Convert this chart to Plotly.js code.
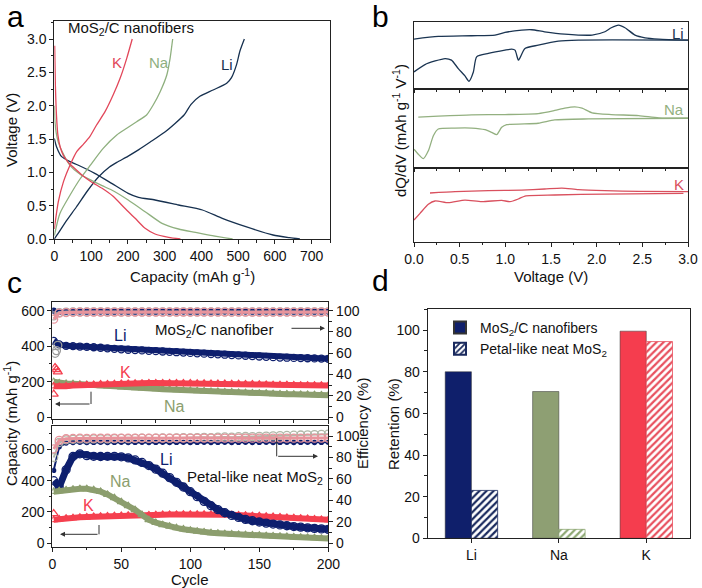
<!DOCTYPE html>
<html><head><meta charset="utf-8">
<script src="https://cdn.plot.ly/plotly-3.0.1.min.js"></script>
<style>html,body{margin:0;padding:0;background:#fff}#chart{width:702px;height:588px}</style>
</head><body><div id="chart"></div>
<script>
// ---------- Panel a: galvanostatic profiles ----------
const aLiDisCap = [0, 6, 20, 43, 64, 110, 156, 201, 229, 274, 338, 403, 457, 521, 595, 640, 668];
const aLiDisV   = [1.51, 1.385, 1.235, 1.16, 1.11, 0.985, 0.835, 0.685, 0.625, 0.585, 0.51, 0.435, 0.31, 0.185, 0.06, 0.02, 0];
const aLiChgCap = [0, 10, 30, 60, 90, 120, 150, 170, 200, 230, 260, 300, 330, 353, 372, 396, 432, 469, 482, 496, 505, 517];
const aLiChgV   = [0, 0.08, 0.25, 0.48, 0.72, 0.93, 1.08, 1.15, 1.24, 1.34, 1.45, 1.6, 1.74, 1.86, 2.02, 2.14, 2.235, 2.335, 2.42, 2.62, 2.82, 3.0];
const aNaDisCap = [0, 2, 5, 11, 25, 43, 70, 97, 130, 156, 201, 247, 293, 338, 384, 430, 485];
const aNaDisV   = [2.0, 1.75, 1.6, 1.45, 1.27, 1.1, 0.97, 0.89, 0.8, 0.735, 0.585, 0.41, 0.235, 0.15, 0.1, 0.05, 0];
const aNaChgCap = [0, 15, 43, 70, 97, 133, 170, 197, 224, 251, 269, 288, 306, 315, 322];
const aNaChgV   = [0.05, 0.38, 0.66, 0.9, 1.1, 1.36, 1.56, 1.66, 1.76, 1.86, 2.01, 2.21, 2.46, 2.71, 3.0];
const aKDisCap  = [1, 3, 6, 10, 16, 25, 38, 55, 75, 100, 130, 160, 192, 220, 247, 274, 311, 343];
const aKDisV    = [2.9, 2.3, 1.85, 1.55, 1.38, 1.25, 1.15, 1.06, 0.96, 0.86, 0.76, 0.64, 0.46, 0.31, 0.16, 0.075, 0.025, 0];
const aKChgCap  = [0, 11, 25, 43, 61, 79, 97, 115, 138, 160, 179, 197, 212];
const aKChgV    = [0.15, 0.56, 0.86, 1.11, 1.31, 1.42, 1.54, 1.71, 1.91, 2.16, 2.41, 2.71, 3.0];

// ---------- Panel b: dQ/dV curves (arbitrary units 0-100) ----------
const bLiUpV  = [0, 0.266, 0.631, 0.887, 0.996, 1.18, 1.29, 1.43, 1.65, 1.95, 2.09, 2.16, 2.24, 2.31, 2.42, 2.53, 2.68, 3.0];
const bLiUpY  = [74.3, 78.2, 79.2, 80.2, 84.2, 87.6, 88.1, 85.1, 81.7, 80.2, 85.1, 91.1, 95, 91.1, 80.2, 76.2, 74.3, 72.8];
const bLiLoV  = [0, 0.12, 0.34, 0.41, 0.485, 0.558, 0.602, 0.65, 0.686, 0.814, 0.996, 1.07, 1.106, 1.142, 1.16, 1.215, 1.36, 1.58, 1.8, 3.0];
const bLiLoY  = [25.7, 36.6, 45.5, 43.1, 30.7, 19.8, 11.9, 25.7, 48, 53, 57.9, 59.4, 57.9, 43.1, 46.5, 60.4, 65.3, 71.3, 72.8, 72.8];
const bNaUpV  = [0.047, 0.266, 0.631, 0.996, 1.36, 1.54, 1.65, 1.76, 1.84, 1.95, 2.16, 2.46, 2.68, 3.0];
const bNaUpY  = [64.4, 65.7, 67.4, 67.8, 69.1, 73, 76, 77.7, 76, 70, 67.8, 66.5, 63.5, 63.1];
const bNaLoV  = [0, 0.047, 0.102, 0.157, 0.212, 0.266, 0.449, 0.631, 0.777, 0.85, 0.905, 0.96, 1.015, 1.36, 1.54, 1.91, 3.0];
const bNaLoY  = [23.6, 17.2, 11.6, 21.5, 40.8, 49.4, 50.6, 50.6, 48.5, 45.1, 42.1, 51.5, 54.9, 56.7, 60.9, 62.2, 63.1];
const bKUpV   = [0.175, 0.449, 0.814, 1.18, 1.43, 1.62, 1.8, 2.09, 2.46, 3.0];
const bKUpY   = [65.8, 67.6, 68.9, 69.8, 71.2, 72.5, 70.3, 68.9, 68, 67.6];
const bKLoV   = [0, 0.066, 0.157, 0.23, 0.376, 0.558, 0.741, 0.96, 1.05, 1.142, 1.215, 1.54, 2.09, 2.95];
const bKLoY   = [29.3, 38.3, 50.5, 55, 52.7, 56.3, 54.1, 55.9, 54.1, 57.7, 61.7, 63.1, 64.4, 65.3];

// ---------- Panel c: cycling ----------
const cyc = [1,5,10,15,20,25,30,35,40,45,50,55,60,65,70,75,80,85,90,95,100,105,110,115,120,125,130,135,140,145,150,155,160,165,170,175,180,185,190,195,200];
const topLi = [430,410,402,400,398,396,394,391,388,385,382,380,378,376,374,372,370,368,366,364,362,360,358,356,354,352,350,348,346,344,342,340,338,336,335,334,333,332,331,330,329];
const topK  = [175,172,175,178,180,182,184,186,187,188,189,190,191,191,192,192,192,192,192,192,192,191,191,190,190,189,188,188,187,186,185,184,183,182,182,181,180,180,179,179,178];
const topNa = [200,192,190,188,185,182,180,177,175,172,170,168,166,164,162,160,158,156,154,152,150,148,147,145,144,142,141,139,138,136,135,134,132,131,130,129,128,127,126,125,124];
const topKEarlyCyc = [1, 2, 3, 4];
const topKEarly    = [130, 280, 268, 255];
const topLiEarlyCyc = [2, 3, 4];
const topLiEarly    = [360, 375, 405];
const effTopLi = [100,98.8,99,99,99.1,99,99,99.1,99,99,99.1,99,99,99.1,99,99,99.1,99,99,99.1,99,99,99.1,99,99,99.1,99,99,99.1,99,99,99.1,99,99,99.1,99,99,99.1,99,99,99.1];
const effTopNa = [95,98.2,98.6,98.7,98.8,98.7,98.8,98.8,98.7,98.8,98.8,98.7,98.8,98.8,98.7,98.8,98.8,98.7,98.8,98.8,98.7,98.8,98.8,98.7,98.8,98.8,98.7,98.8,98.8,98.7,98.8,98.8,98.7,98.8,98.8,98.7,98.8,98.8,98.7,98.8,98.8];
const effTopK  = [92,97.6,98.2,98.4,98.5,98.5,98.6,98.6,98.5,98.6,98.6,98.5,98.6,98.6,98.5,98.6,98.6,98.5,98.6,98.6,98.5,98.6,98.6,98.5,98.6,98.6,98.5,98.6,98.6,98.5,98.6,98.6,98.5,98.6,98.6,98.5,98.6,98.6,98.5,98.6,98.6];

const botLi = [400,360,470,555,572,560,556,555,556,556,553,546,533,517,497,474,448,420,390,360,330,298,268,240,215,195,178,165,153,144,136,129,123,117,112,107,103,99,95,92,89];
const botNa = [330,335,340,345,348,348,342,330,312,290,265,240,214,182,150,132,118,108,98,90,82,76,71,67,64,61,58,56,54,52,50,48,46,44,42,40,38,36,34,32,30];
const botK  = [150,155,160,163,166,168,170,172,174,176,177,178,179,180,181,182,183,184,184,185,185,185,185,184,184,183,182,180,178,176,175,172,170,168,165,163,160,158,155,152,150];
const botKEarlyCyc = [1];
const botKEarly    = [190];
const effBotLi = [68,90,93.5,94,94.2,94,94.1,94.2,94,94.1,94.2,94,94.1,94.2,94,94.1,94.2,94,94.1,94.2,94,94.1,94.2,94,94.1,94.2,94,94.1,94.2,94,94.1,94.2,94,94.1,94.2,94,94.1,94.2,94,94.1,94.2];
const effBotNa = [80,94,96.5,97,97.3,97.2,97.4,97.5,97.4,97.6,97.8,97.6,97.8,98,97.8,98,98.2,98,98.3,98.5,98.3,98.6,98.8,98.6,99,99.2,99,99.4,99.6,99.5,99.8,100,100.2,100.4,100.6,100.8,101,101.2,101.4,101.6,101.8];
const effBotK  = [88,96,97.5,97.8,98,97.9,98,98.1,98,98.1,98.1,98,98.1,98.1,98,98.1,98.1,98,98.1,98.1,98,98.1,98.1,98,98.1,98.1,98,98.1,98.1,98,98.1,98.1,98,98.1,98.1,98,98.1,98.1,98,98.1,98.1];

// ---------- Panel d: retention ----------
const dCats = ['Li', 'Na', 'K'];
const dFiber = [80, 70.5, 99.5];
const dPetal = [23, 4.3, 94.5];
const dSeries = ['MoS<sub>2</sub>/C nanofibers', 'Petal-like neat MoS<sub>2</sub>'];

// ---------- styles ----------
const FONT = 'Liberation Sans, Arial, Helvetica, sans-serif';
const cLiA = '#16304f', cNaA = '#8fb07f', cKA = '#e2475a';
const cLiC = '#0e1f6e', cNaC = '#8c9e6e', cKC = '#f5404f';
const W = 702, H = 588;
const X = px => px / W;
const Y = py => 1 - py / H;

const traces = [];
function line(x, y, color, xa, ya) {
  traces.push({x, y, type:'scatter', mode:'lines', xaxis:xa, yaxis:ya, showlegend:false,
    line:{color, width:1.3, shape:'spline', smoothing:0.6}, hoverinfo:'skip'});
}
// panel a
line(aLiDisCap, aLiDisV, cLiA, 'x', 'y');
line(aLiChgCap, aLiChgV, cLiA, 'x', 'y');
line(aNaDisCap, aNaDisV, cNaA, 'x', 'y');
line(aNaChgCap, aNaChgV, cNaA, 'x', 'y');
line(aKDisCap, aKDisV, cKA, 'x', 'y');
line(aKChgCap, aKChgV, cKA, 'x', 'y');
// panel b
line(bLiUpV, bLiUpY, '#1b3552', 'x2', 'y2');
line(bLiLoV, bLiLoY, '#1b3552', 'x2', 'y2');
line(bNaUpV, bNaUpY, '#93b080', 'x3', 'y3');
line(bNaLoV, bNaLoY, '#93b080', 'x3', 'y3');
line(bKUpV, bKUpY, '#d9505e', 'x4', 'y4');
line(bKLoV, bKLoY, '#d9505e', 'x4', 'y4');

function band(x, y, color, sym, xa, ya, lw, ms) {
  traces.push({x, y, type:'scatter', mode:'lines+markers', xaxis:xa, yaxis:ya, showlegend:false,
    line:{color, width:lw}, marker:{symbol:sym, size:ms, color, line:{color, width:1.3}}, hoverinfo:'skip'});
}
function pts(x, y, color, sym, xa, ya, ms) {
  traces.push({x, y, type:'scatter', mode:'markers', xaxis:xa, yaxis:ya, showlegend:false,
    marker:{symbol:sym, size:ms, color, line:{color, width:1.3}}, hoverinfo:'skip'});
}
// panel c top
band(cyc, topNa, cNaC, 'triangle-up-open', 'x5', 'y5', 6, 7);
band(cyc, topK, cKC, 'triangle-up-open', 'x5', 'y5', 6, 7);
band(cyc, topLi, cLiC, 'circle-open', 'x5', 'y5', 6, 7);
pts(topKEarlyCyc, topKEarly, cKC, 'triangle-up-open', 'x5', 'y5', 8);
pts(topLiEarlyCyc, topLiEarly, '#9a9a9a', 'circle-open', 'x5', 'y5', 8);
band(cyc, effTopLi, cLiC, 'circle', 'x5', 'y6', 2, 5);
band(cyc, effTopNa, '#a6a6a6', 'circle-open', 'x5', 'y6', 3, 8);
band(cyc, effTopK, '#e8949c', 'circle-open', 'x5', 'y6', 3, 8);
// panel c bottom
band(cyc, botK, cKC, 'triangle-up-open', 'x7', 'y7', 6, 7);
band(cyc, botLi, cLiC, 'circle-open', 'x7', 'y7', 7, 8);
band(cyc, botNa, cNaC, 'triangle-up-open', 'x7', 'y7', 6, 7);
pts(botKEarlyCyc, botKEarly, cKC, 'triangle-up-open', 'x7', 'y7', 8);
band(cyc, effBotLi, cLiC, 'circle', 'x7', 'y8', 2, 4);
band(cyc, effBotNa, '#b0b8a8', 'circle-open', 'x7', 'y8', 2, 8);
band(cyc, effBotK, '#e8949c', 'circle-open', 'x7', 'y8', 3, 8);

// panel d
const solidCols = ['#0f1f6b', '#8e9f73', '#f53d4e'];
const hatchCols = ['#1a2a5e', '#8ea874', '#e8505e'];
traces.push({type:'bar', x:dCats, y:dFiber, name:dSeries[0], xaxis:'x9', yaxis:'y9',
  marker:{color:solidCols, line:{color:'#333', width:0.5}}, hoverinfo:'skip'});
traces.push({type:'bar', x:dCats, y:dPetal, name:dSeries[1], xaxis:'x9', yaxis:'y9',
  marker:{color:'#ffffff', line:{color:hatchCols, width:0.8},
    pattern:{shape:'/', fgcolor:hatchCols, bgcolor:'#ffffff', size:5, solidity:0.45}}, hoverinfo:'skip'});

const tf = {family:FONT, size:14, color:'#111'};
function ax(o) {
  return Object.assign({showline:true, linecolor:'#222', linewidth:1, mirror:true, showgrid:false,
    zeroline:false, ticks:'outside', ticklen:4, tickwidth:1, tickcolor:'#222', tickfont:tf}, o);
}
const layout = {
  width:W, height:H, autosize:false, margin:{l:0, r:0, t:0, b:0},
  paper_bgcolor:'#fff', plot_bgcolor:'rgba(0,0,0,0)', font:{family:FONT, color:'#111'},
  bargap:0.4, bargroupgap:0,
  showlegend:true,
  legend:{x:X(440), y:Y(312), xanchor:'left', yanchor:'top', bgcolor:'rgba(0,0,0,0)',
    font:{family:FONT, size:14, color:'#111'}, itemsizing:'constant', tracegroupgap:4},
  xaxis: ax({domain:[X(54.3), X(330)], anchor:'y', range:[0, 750], dtick:100, tick0:0,
    minor:{dtick:50, ticks:'outside', ticklen:2.5, tickcolor:'#222'}}),
  yaxis: ax({domain:[Y(239), Y(21)], anchor:'x', range:[0, 3.27], dtick:0.5, tick0:0, tickformat:'.1f',
    minor:{dtick:0.25, ticks:'outside', ticklen:2.5, tickcolor:'#222'}}),
  xaxis2: ax({domain:[X(414), X(688)], anchor:'y2', range:[0, 3], dtick:0.5, showticklabels:false, ticklen:3,
    minor:{dtick:0.25, ticks:'outside', ticklen:2, tickcolor:'#222'}}),
  yaxis2: ax({domain:[Y(89.3), Y(21.7)], anchor:'x2', range:[0, 100], showticklabels:false, ticks:''}),
  xaxis3: ax({domain:[X(414), X(688)], anchor:'y3', range:[0, 3], dtick:0.5, showticklabels:false, ticklen:3,
    minor:{dtick:0.25, ticks:'outside', ticklen:2, tickcolor:'#222'}}),
  yaxis3: ax({domain:[Y(167.7), Y(89.3)], anchor:'x3', range:[0, 100], showticklabels:false, ticks:''}),
  xaxis4: ax({domain:[X(414), X(688)], anchor:'y4', range:[0, 3], dtick:0.5, tickformat:'.1f',
    minor:{dtick:0.25, ticks:'outside', ticklen:2.5, tickcolor:'#222'}}),
  yaxis4: ax({domain:[Y(241.7), Y(167.7)], anchor:'x4', range:[0, 100], showticklabels:false, ticks:''}),
  xaxis5: ax({domain:[X(52.3), X(328.3)], anchor:'y5', range:[0, 200], dtick:50, showticklabels:false,
    minor:{dtick:25, ticks:'outside', ticklen:2.5, tickcolor:'#222'}}),
  yaxis5: ax({domain:[Y(419), Y(302.3)], anchor:'x5', range:[-10, 647], dtick:200, tick0:0, mirror:false,
    minor:{dtick:100, ticks:'outside', ticklen:2.5, tickcolor:'#222'}}),
  yaxis6: ax({overlaying:'y5', side:'right', anchor:'x5', range:[-1.67, 107.8], dtick:20, tick0:0, mirror:false,
    minor:{dtick:10, ticks:'outside', ticklen:2.5, tickcolor:'#222'}}),
  xaxis7: ax({domain:[X(52.3), X(328.3)], anchor:'y7', range:[0, 200], dtick:50,
    minor:{dtick:25, ticks:'outside', ticklen:2.5, tickcolor:'#222'}}),
  yaxis7: ax({domain:[Y(546.7), Y(426)], anchor:'x7', range:[-22, 750], dtick:200, tick0:0, mirror:false,
    minor:{dtick:100, ticks:'outside', ticklen:2.5, tickcolor:'#222'}}),
  yaxis8: ax({overlaying:'y7', side:'right', anchor:'x7', range:[-3.2, 109.4], dtick:20, tick0:0, mirror:false,
    minor:{dtick:10, ticks:'outside', ticklen:2.5, tickcolor:'#222'}}),
  xaxis9: ax({domain:[X(427.7), X(690)], anchor:'y9', type:'category', range:[-0.5, 2.5]}),
  yaxis9: ax({domain:[Y(538.3), Y(309.3)], anchor:'x9', range:[0, 110], dtick:20, tick0:0,
    minor:{dtick:10, ticks:'outside', ticklen:2.5, tickcolor:'#222'}}),
  annotations: [], shapes: []
};

function txt(x, y, text, size, color, opts) {
  layout.annotations.push(Object.assign({xref:'paper', yref:'paper', x:X(x), y:Y(y), text, showarrow:false,
    font:{family:FONT, size, color}, xanchor:'center', yanchor:'middle'}, opts || {}));
}
// panel letters
txt(15, 17, 'a', 30, '#000'); txt(381, 17, 'b', 30, '#000');
txt(14, 282, 'c', 30, '#000'); txt(380, 281, 'd', 30, '#000');
// panel a
txt(66, 28, 'MoS<sub>2</sub>/C nanofibers', 15, '#111', {xanchor:'left'});
txt(117, 63, 'K', 15, cKA); txt(159, 63, 'Na', 15, cNaA); txt(227, 65, 'Li', 15, cLiA);
txt(192, 275, 'Capacity (mAh g<sup>-1</sup>)', 15, '#111');
txt(11, 130, 'Voltage (V)', 15, '#111', {textangle:-90});
// panel b
txt(686, 33, 'Li', 15, '#1b3552', {xanchor:'right'});
txt(686, 109, 'Na', 15, '#93b080', {xanchor:'right'});
txt(686, 185, 'K', 15, '#d9505e', {xanchor:'right'});
txt(551, 276, 'Voltage (V)', 15, '#111');
txt(400, 131, 'dQ/dV (mAh g<sup>-1</sup> V<sup>-1</sup>)', 15, '#111', {textangle:-90});
// panel c
txt(153, 330, 'MoS<sub>2</sub>/C nanofiber', 15, '#111', {xanchor:'left'});
txt(120, 335, 'Li', 16, cLiC); txt(125, 372, 'K', 16, cKC); txt(174, 406, 'Na', 16, cNaC);
txt(185, 477, 'Petal-like neat MoS<sub>2</sub>', 15, '#111', {xanchor:'left'});
txt(166, 459, 'Li', 16, cLiC); txt(120, 481, 'Na', 16, cNaC); txt(88, 505, 'K', 16, cKC);
txt(190, 579, 'Cycle', 15, '#111');
txt(10, 424, 'Capacity (mAh g<sup>-1</sup>)', 15, '#111', {textangle:-90});
txt(362, 424, 'Efficiency (%)', 15, '#111', {textangle:-90});
// panel d
txt(393, 424, 'Retention (%)', 15, '#111', {textangle:-90});

// guide arrows in panel c
function arrow(x0, y0, x1, y1) {
  layout.annotations.push({xref:'paper', yref:'paper', x:X(x1), y:Y(y1), ax:x0 - x1, ay:y0 - y1,
    axref:'pixel', ayref:'pixel', text:'', showarrow:true, arrowhead:2, arrowsize:1, arrowwidth:1, arrowcolor:'#333'});
}
function seg(x0, y0, x1, y1) {
  layout.shapes.push({type:'line', xref:'paper', yref:'paper', x0:X(x0), y0:Y(y0), x1:X(x1), y1:Y(y1),
    line:{color:'#333', width:1}});
}
arrow(290, 328.3, 325, 328.3);
seg(91, 391.7, 91, 404); arrow(91, 404, 55, 404);
seg(99, 525, 99, 534.3); arrow(99, 534.3, 60, 534.3);
seg(276.7, 438, 276.7, 456.3); arrow(276.7, 456.3, 318, 456.3);

Plotly.newPlot('chart', traces, layout, {staticPlot:true});
</script></body></html>
